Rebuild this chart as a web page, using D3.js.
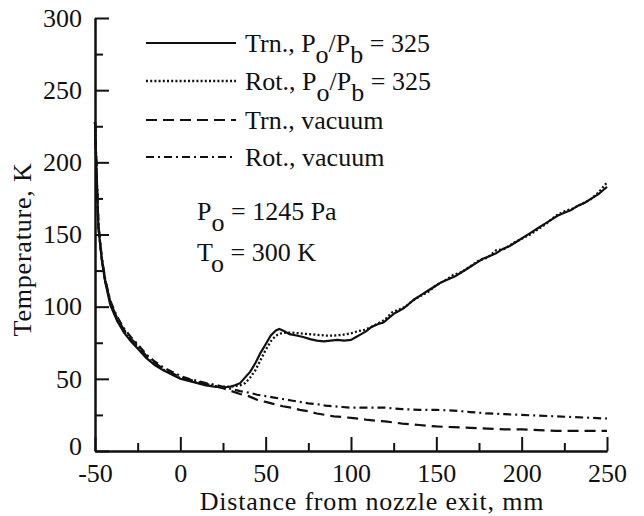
<!DOCTYPE html>
<html>
  <head>
    <meta charset="utf-8">
    <title>Temperature vs distance from nozzle exit</title>
    <style>
      body { margin: 0; background: #fff; }
      svg text { font-family: "Liberation Serif", "DejaVu Serif", serif !important; fill: #111; }
      .tick text { font-size: 26px; }
      .domain, .tick line { stroke: #111; stroke-width: 2px; }
      .series { fill: none; stroke: #111; }
    </style>
  </head>
  <body>
    <div id="chart"></div>
    <script src="https://d3js.org/d3.v7.min.js"></script>
    <script>
      // distance from nozzle exit (mm) and temperature (K)
      const trnPbX = [-50, -49, -48, -46, -44, -41, -37, -33, -29, -25, -20, -15, -10, -5, 0, 5, 10, 15, 20, 25, 29, 32, 35, 38, 41, 44, 47, 50, 53, 56, 58, 61, 64, 68, 72, 76, 80, 84, 88, 92, 96, 100, 103, 106, 109, 112, 116, 119, 122, 125, 128, 131, 134, 137, 141, 145, 149, 153, 157, 161, 165, 169, 173, 177, 181, 185, 189, 193, 197, 201, 205, 209, 213, 217, 221, 225, 229, 233, 237, 241, 245, 248, 250];
      const trnPbT = [228, 190, 155, 132, 117, 101, 90, 82, 76, 71, 64.5, 59.5, 56, 53, 50, 48.5, 47, 45.5, 44.5, 44, 44.5, 45.5, 47, 51, 55, 61, 68, 74, 80, 83.5, 84.5, 83, 81, 80, 79, 77.5, 76.5, 76, 76.5, 77, 76.5, 77, 79, 81, 83, 86, 88, 89, 92, 95, 97, 99, 102, 105, 108, 111, 114, 117, 119, 121, 124, 127, 130, 133, 135, 137, 140, 142, 145, 148, 151, 154, 157, 160, 163, 165, 167, 170, 172, 175, 178, 181, 183];

      const rotPbX = [-50, -49, -48, -46, -44, -41, -37, -33, -29, -25, -20, -15, -10, -5, 0, 5, 10, 15, 20, 25, 29, 32, 35, 38, 41, 44, 47, 50, 53, 56, 59, 62, 66, 70, 75, 80, 85, 90, 95, 100, 104, 108, 112, 116, 120, 124, 128, 132, 136, 140, 145, 150, 155, 160, 165, 170, 175, 180, 185, 190, 195, 200, 205, 210, 215, 220, 225, 230, 235, 240, 245, 250];
      const rotPbT = [228, 191, 156, 133, 118, 102, 91, 83, 77, 72, 65, 60, 56.5, 53.5, 50.5, 49, 47.5, 46, 45, 44.5, 44.5, 45, 45.5, 47, 51, 56, 63, 70, 76, 80, 81.5, 82, 82, 81.5, 81, 80.5, 80, 80, 80.5, 81.5, 83, 84, 86, 88.5, 91, 96, 98, 100, 104, 107, 110, 115, 118, 122, 124, 128, 132, 134, 139, 140, 144, 147, 150, 154, 158, 163, 166, 168, 171, 174, 179, 186];

      const trnVacX = [-50, -49, -48, -46, -44, -41, -37, -33, -29, -25, -20, -15, -10, -5, 0, 5, 10, 15, 20, 25, 30, 35, 40, 45, 50, 55, 60, 65, 70, 75, 80, 85, 90, 95, 100, 110, 120, 130, 140, 150, 160, 170, 180, 190, 200, 210, 220, 230, 240, 250];
      const trnVacT = [228, 190, 155, 133, 118, 103, 92, 84, 78, 73, 66, 61, 57, 54, 51, 49.5, 48, 46.5, 45, 43.5, 41.5, 39.5, 38, 35.5, 34, 32.5, 31, 30, 28.5, 27.5, 26, 25, 24, 23.5, 23, 21.5, 20.5, 19, 18, 17, 16.5, 16, 15.5, 15, 15, 14.5, 14, 14, 14, 14];

      const rotVacX = [-50, -49, -48, -46, -44, -41, -37, -33, -29, -25, -20, -15, -10, -5, 0, 5, 10, 15, 20, 25, 30, 35, 40, 45, 50, 55, 60, 65, 70, 75, 80, 85, 90, 95, 100, 110, 120, 130, 140, 150, 160, 170, 180, 190, 200, 210, 220, 230, 240, 250];
      const rotVacT = [228, 191, 157, 134, 119, 104, 93, 85, 79, 74, 67, 62, 58, 55, 52, 50, 48.5, 47, 46, 44.5, 43, 41.5, 40.5, 39, 38, 37, 36, 35, 34, 33, 32.5, 31.5, 31, 30.5, 30, 30, 30, 29, 28.5, 28.5, 28, 27, 26, 25.5, 25, 24.5, 24, 23.5, 23, 22.5];

      const xMajorTicks = [-50, 0, 50, 100, 150, 200, 250];
      const xMinorTicks = [-25, 25, 75, 125, 175, 225];
      const yMajorTicks = [0, 50, 100, 150, 200, 250, 300];
      const yMinorTicks = [25, 75, 125, 175, 225, 275];

      const width = 644;
      const height = 516;
      const serif = "'Liberation Serif', 'DejaVu Serif', serif";

      const svg = d3.select("#chart")
        .append("svg")
        .attr("width", width)
        .attr("height", height)
        .attr("font-family", serif);

      const x = d3.scaleLinear().domain([-50, 250]).range([95, 607]);
      const y = d3.scaleLinear().domain([0, 300]).range([451, 18]);

      // minor ticks first, no labels
      svg.append("g")
        .attr("transform", `translate(0,${y(0)})`)
        .call(d3.axisBottom(x).tickValues(xMinorTicks).tickSize(-8).tickSizeOuter(0).tickFormat(""));
      svg.append("g")
        .attr("transform", `translate(${x(-50)},0)`)
        .call(d3.axisLeft(y).tickValues(yMinorTicks).tickSize(-8).tickSizeOuter(0).tickFormat(""));

      // major ticks, pointing inward; plain hyphen for the negative label
      const xAxis = svg.append("g")
        .attr("transform", `translate(0,${y(0)})`)
        .call(d3.axisBottom(x).tickValues(xMajorTicks).tickSize(-14).tickSizeOuter(0)
          .tickPadding(13).tickFormat(d => String(d)));
      const yAxis = svg.append("g")
        .attr("transform", `translate(${x(-50)},0)`)
        .call(d3.axisLeft(y).tickValues(yMajorTicks).tickSize(-14).tickSizeOuter(0).tickPadding(13));
      xAxis.attr("font-family", serif);
      yAxis.attr("font-family", serif);

      // the 0 label sits a little high so it clears the -50 below it
      yAxis.selectAll(".tick text")
        .filter(d => d === 0)
        .attr("dy", "0.12em");

      // axis titles
      svg.append("text")
        .attr("x", (x(-50) + x(250)) / 2 + 21)
        .attr("y", 510)
        .attr("text-anchor", "middle")
        .style("font-size", "26px")
        .style("letter-spacing", "0.8px")
        .text("Distance from nozzle exit, mm");

      svg.append("text")
        .attr("transform", `translate(31,${(y(0) + y(300)) / 2 + 15}) rotate(-90)`)
        .attr("text-anchor", "middle")
        .style("font-size", "26px")
        .style("letter-spacing", "0.8px")
        .text("Temperature, K");

      const series = [
        { label: "Trn.", ratio: true, xs: trnPbX, ts: trnPbT, dash: null, w: 2.2 },
        { label: "Rot.", ratio: true, xs: rotPbX, ts: rotPbT, dash: "2,2.2", w: 2.3 },
        { label: "Trn., vacuum", ratio: false, xs: trnVacX, ts: trnVacT, dash: "11,6", w: 2.2 },
        { label: "Rot., vacuum", ratio: false, xs: rotVacX, ts: rotVacT, dash: "8,4,2,4", w: 2.2 }
      ];

      const line = d3.line()
        .x(d => x(d[0]))
        .y(d => y(d[1]));

      series.forEach(s => {
        svg.append("path")
          .attr("class", "series")
          .datum(d3.zip(s.xs, s.ts))
          .attr("d", line)
          .attr("stroke-width", s.w)
          .attr("stroke-dasharray", s.dash);
      });

      // legend
      const legendY = [43, 81, 120, 157];
      series.forEach((s, i) => {
        const g = svg.append("g").attr("transform", `translate(0,${legendY[i]})`);
        g.append("line")
          .attr("x1", 146).attr("x2", 236)
          .attr("stroke", "#111")
          .attr("stroke-width", s.w)
          .attr("stroke-dasharray", s.dash);
        const t = g.append("text")
          .attr("x", 245)
          .attr("y", 9)
          .style("font-size", "26px");
        if (s.ratio) {
          t.append("tspan").text(s.label + ", P");
          t.append("tspan").attr("dy", 11).text("o");
          t.append("tspan").attr("dy", -11).text("/P");
          t.append("tspan").attr("dy", 11).text("b");
          t.append("tspan").attr("dy", -11).text(" = 325");
        } else {
          t.text(s.label);
        }
      });

      // stagnation conditions
      const cond = [["P", " = 1245 Pa", 220], ["T", " = 300 K", 261]];
      cond.forEach(c => {
        const t = svg.append("text")
          .attr("x", 197)
          .attr("y", c[2])
          .style("font-size", "26px");
        t.append("tspan").text(c[0]);
        t.append("tspan").attr("dy", 11).text("o");
        t.append("tspan").attr("dy", -11).text(c[1]);
      });
    </script>
  </body>
</html>
